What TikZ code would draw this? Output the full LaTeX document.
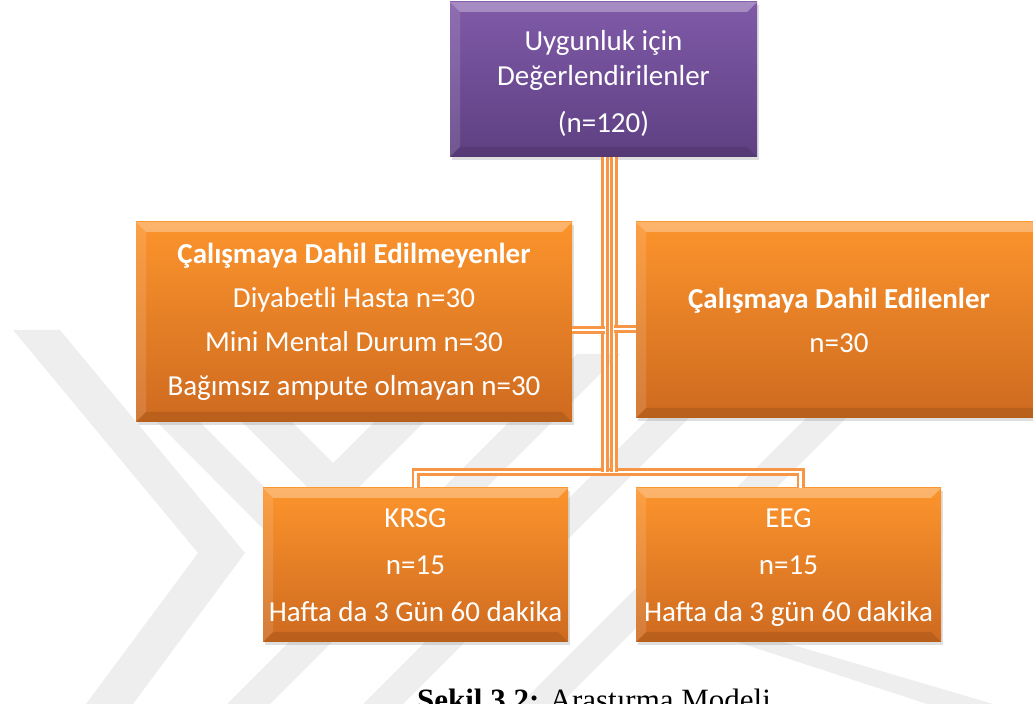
\documentclass[tikz,border=0pt]{standalone}
\usepackage{fontspec}
\setmainfont{Carlito}
\newfontfamily\capfont{Liberation Serif}
\usetikzlibrary{shadows}
\definecolor{boxtop}{RGB}{252,148,44}
\definecolor{boxbot}{RGB}{206,106,32}
\definecolor{purtop}{RGB}{128,90,168}
\definecolor{purbot}{RGB}{94,64,130}
\definecolor{pipeor}{RGB}{247,150,70}
\definecolor{wmark}{RGB}{238,238,238}
\tikzset{
  bevel/.style={path picture={
    \fill[white,opacity=.3] (path picture bounding box.north west) -- (path picture bounding box.north east)
      -- ([shift={(-5pt,-5pt)}]path picture bounding box.north east) -- ([shift={(5pt,-5pt)}]path picture bounding box.north west) -- cycle;
    \fill[white,opacity=.12] (path picture bounding box.north west) -- ([shift={(5pt,-5pt)}]path picture bounding box.north west)
      -- ([shift={(5pt,5pt)}]path picture bounding box.south west) -- (path picture bounding box.south west) -- cycle;
    \fill[black,opacity=.1] (path picture bounding box.south west) -- ([shift={(5pt,5pt)}]path picture bounding box.south west)
      -- ([shift={(-5pt,5pt)}]path picture bounding box.south east) -- (path picture bounding box.south east) -- cycle;}},
  orbox/.style={rectangle, top color=boxtop, bottom color=boxbot, text=white, align=center, inner sep=0pt,
    drop shadow={shadow xshift=1pt, shadow yshift=-1.5pt, opacity=.25}, bevel, font=\fontsize{14.5}{22}\selectfont},
  pubox/.style={orbox, top color=purtop, bottom color=purbot},
  pipe/.style={draw=pipeor, line width=1.3pt, double=white, double distance=1.4pt},
  wm/.style={fill=wmark}
}
\begin{document}
\begin{tikzpicture}[x=0.5pt,y=-0.5pt]
\useasboundingbox (0,0) rectangle (1033,704);
\clip (0,0) rectangle (1033,704);
\fill[wm] (13,330) -- (60,330) -- (245,553) -- (133,704) -- (86,704) -- (198,553) -- cycle;
\fill[wm] (135,400) -- (178,400) -- (330,553) -- (287,553) -- cycle;
\fill[wm] (240,420) -- (290,420) -- (333,463) -- (376,420) -- (426,420) -- (333,513) -- cycle;
\fill[wm] (227,704) -- (270,704) -- (620,354) -- (577,354) -- cycle;
\fill[wm] (363,704) -- (403,704) -- (700,407) -- (660,407) -- cycle;
\fill[wm] (520,704) -- (560,704) -- (860,404) -- (820,404) -- cycle;
\fill[wm] (737,642) -- (783,642) -- (993,704) -- (927,704) -- cycle;
\node[pubox, minimum width=153.5pt, minimum height=77.5pt, font=\fontsize{14.5}{17.5}\selectfont] (bx0) at (603.5,79.5){\rule{0pt}{14pt}Uygunluk için\\Değerlendirilenler\\[6pt](n=120)};
\node[orbox, minimum width=218pt, minimum height=100pt] (bx1) at (354,322){\textbf{Çalışmaya Dahil Edilmeyenler}\\Diyabetli Hasta n=30\\Mini Mental Durum n=30\\Bağımsız ampute olmayan n=30};
\node[orbox, minimum width=203pt, minimum height=98pt] (bx2) at (839,320){\textbf{Çalışmaya Dahil Edilenler}\\n=30};
\node[orbox, minimum width=152.5pt, minimum height=77pt, font=\fontsize{14.5}{23.5}\selectfont] (bx3) at (415.5,565){\strut KRSG\\n=15\\Hafta da 3 Gün 60 dakika\strut};
\node[orbox, minimum width=152.5pt, minimum height=77pt, font=\fontsize{14.5}{23.5}\selectfont] (bx4) at (788.5,565){\strut EEG\\n=15\\Hafta da 3 gün 60 dakika\strut};
\coordinate (jn0) at (605,472);
\coordinate (jn1) at (614,472);
\coordinate (lk0) at (605,330);
\coordinate (lk1) at (614,329);
\draw[pipe](bx3.north) |- (jn1) -| ([xshift=6pt]bx4.north);
\draw[pipe]([xshift=0.75pt]bx0.south) -- (jn0);
\draw[pipe]([xshift=5.25pt]bx0.south) -- (jn1);
\draw[pipe](lk0) -- (lk0 -| bx1.east);
\draw[pipe](lk1) -- (lk1 -| bx2.west);
\node[anchor=base west, font=\capfont\fontsize{15.5}{18}\selectfont] (cap) at (410,710.5){\textbf{Şekil 3.2:} Araştırma Modeli};
\end{tikzpicture}
\end{document}
